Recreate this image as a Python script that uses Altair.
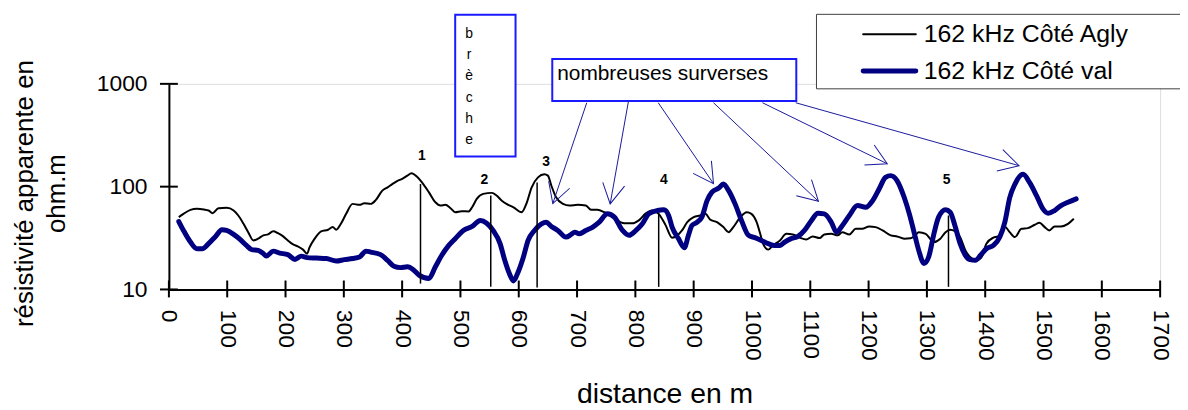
import math
import altair as alt
import pandas as pd

# ---------------- data ----------------
SERIES = ["162 kHz Côté Agly", "162 kHz Côté val"]

agly_dist = [17, 25, 37, 48, 60, 68, 75, 85, 99, 111, 119, 128, 136, 145, 153, 162, 170, 179, 187, 196,
             204, 213, 221, 230, 237, 241, 250, 261, 273, 281, 287, 295, 304, 315, 327, 335, 346, 355, 366, 375,
             383, 392, 400, 409, 416, 426, 434, 446, 457, 466, 474, 483, 491, 502, 514, 520, 528, 539, 554, 562,
             571, 579, 591, 605, 613, 622, 633, 644, 650, 656, 664, 676, 687, 701, 715, 724, 735, 747, 758, 769,
             781, 795, 806, 818, 829, 840, 852, 863, 872, 880, 889, 900, 911, 920, 928, 940, 951, 960, 968, 980,
             991, 999, 1008, 1014, 1019, 1028, 1036, 1048, 1059, 1070, 1082, 1093, 1104, 1116, 1124, 1136, 1147,
             1155, 1167, 1178, 1189, 1201, 1212, 1224, 1238, 1249, 1261, 1272, 1280, 1286, 1298, 1312, 1323, 1332,
             1340, 1348, 1357, 1366, 1374, 1385, 1394, 1402, 1414, 1422, 1434, 1442, 1451, 1462, 1473, 1485, 1493,
             1502, 1510, 1519, 1530, 1542, 1552]
agly_rho = [50.5, 54.4, 59.5, 60.8, 59.9, 58.6, 55.1, 61.7, 62.2, 58.6, 52.4, 43.5, 36.1, 30, 31.2, 33.6, 34.3,
            36.9, 35.3, 32.8, 30, 27.4, 26.3, 24.4, 22.3, 25.5, 31.2, 36.7, 38.1, 40.4, 38.1, 43.5, 54.4, 68, 66.5,
            68.9, 68, 74.3, 91.5, 98.4, 106, 114, 119, 128, 135, 124, 110, 88, 70.5, 65.5, 66.5, 61.7, 56.4, 57.7,
            57.3, 63, 76, 85, 87, 82, 73, 68, 63, 56.4, 68, 98, 123, 132, 128, 102, 79, 68, 65.5, 66.5, 65.5, 59.5,
            59.5, 56.4, 52.4, 47, 44, 44, 47, 55, 58.6, 54.4, 42, 31.9, 33.6, 37.5, 45.1, 50.5, 52.4, 54.4, 48,
            45.1, 40.4, 36.1, 40.4, 50.5, 56.4, 54.4, 45.1, 35, 27.9, 24.4, 26.8, 30, 34.8, 34.3, 31.9, 30.6, 32.8,
            31.6, 34.3, 34.8, 33.6, 36.1, 34.3, 38.9, 38.9, 41, 40.4, 37.5, 33.6, 32.8, 31.2, 31.5, 33.6, 36.1,
            34.8, 28.9, 31.2, 36.1, 38.1, 36.9, 32.3, 24, 20.7, 19.2, 20.7, 27.9, 31.9, 32.8, 40.4, 36.1, 32.3,
            38.9, 39.5, 42.6, 44.5, 40.4, 37.5, 41, 41, 43.5, 48.7]

val_dist = [17, 25, 37, 48, 57, 68, 80, 91, 99, 111, 122, 133, 142, 153, 162, 167, 179, 190, 204, 216, 227, 237,
            253, 270, 287, 301, 315, 327, 338, 346, 363, 375, 386, 397, 409, 420, 429, 446, 457, 468, 480, 491,
            505, 520, 534, 545, 556, 568, 576, 585, 591, 599, 608, 616, 627, 639, 647, 656, 667, 681, 690, 696,
            704, 715, 727, 738, 752, 764, 778, 789, 801, 812, 823, 838, 849, 857, 863, 874, 884, 891, 897, 906,
            914, 923, 931, 943, 951, 960, 971, 982, 994, 1005, 1016, 1028, 1039, 1048, 1056, 1067, 1079, 1090,
            1102, 1113, 1124, 1136, 1145, 1155, 1167, 1181, 1195, 1207, 1218, 1229, 1238, 1249, 1261, 1270, 1278,
            1286, 1295, 1303, 1312, 1320, 1332, 1340, 1348, 1357, 1366, 1374, 1383, 1392, 1402, 1414, 1425, 1434,
            1442, 1451, 1465, 1476, 1488, 1499, 1508, 1519, 1530, 1542, 1556]
val_rho = [45.8, 37.5, 28.9, 24.9, 24.9, 27.9, 32.8, 38.1, 37.5, 34.3, 30.7, 26.8, 24.4, 24, 22.3, 21.1, 23.6,
           22.6, 21.8, 19.6, 21.1, 20.4, 20.2, 20, 18.9, 19.5, 20, 20.7, 23.6, 23.1, 21.8, 19.2, 16.8, 16.3, 16.6,
           15.4, 13.8, 12.8, 16.6, 21.5, 26.8, 31.2, 37.5, 41, 46.9, 44.1, 37.5, 27.9, 19.2, 13.8, 12.1, 14.8,
           20.7, 30, 37.5, 43.5, 45.1, 41, 37.5, 32.3, 34.3, 36.1, 34.8, 37.5, 40.4, 45.1, 54.4, 50.5, 37.5, 33.6,
           37.5, 43.5, 54.4, 58.6, 59.5, 52.4, 40.4, 31.2, 25.5, 33.6, 41.9, 45.1, 50.5, 73.2, 88.1, 97, 106, 91.5,
           68, 46.9, 33.6, 31.9, 30, 27.9, 26.8, 26.8, 28.9, 31.2, 32.8, 37.5, 46.9, 55.1, 54.4, 45.1, 36.1, 41.9,
           52.4, 65.5, 63, 73.2, 95, 123, 128, 114, 78.8, 54, 36, 24, 17.9, 20.7, 34.8, 50.5, 59.5, 56.4, 41.9,
           27.9, 21.5, 19.5, 19.2, 21.5, 24.9, 26.8, 32.3, 46, 78, 106, 132, 110, 81.8, 60.8, 55.1, 58.6, 65.5,
           70.5, 76]

x_tick_values = [0, 100, 200, 300, 400, 500, 600, 700, 800, 900, 1000, 1100, 1200, 1300, 1400, 1500, 1600, 1700]
y_tick_values = [10, 100, 1000]

# numbered markers (vertical lines + labels)
marker_labels = ["1", "2", "3", "4", "5"]
marker_dist = [431.5, 552, 631.5, 840, 1337]
marker_low = [11.4, 10.6, 10.45, 10.6, 10.6]
marker_high = [106, 81.8, 110, 54.4, 52.4]
label_dist = [434, 541, 647, 849, 1334]
label_rho = [181, 106, 160, 106, 106]

# "nombreuses surverses" call-out and arrows
surverses_text = "nombreuses surverses"
surverses_box_dist = [657.5, 1076]
surverses_box_rho = [680, 1746]
surverses_text_pos = [666, 1084]
arrow_start_dist = [716.6, 788.2, 839.3, 934, 1018, 1075]
arrow_start_rho = [655, 680, 655, 655, 655, 655]
arrow_tip_dist = [658.4, 756.8, 934, 1114, 1232, 1458]
arrow_tip_rho = [68.4, 68, 107, 72, 167, 160]

# "brèche" box
breche_letters = ["b", "r", "è", "c", "h", "e"]
breche_box_dist = [491, 594.5]
breche_box_rho = [196.5, 4697]
breche_text_pos = [515, 2787]

# ---------------- layout / style ----------------
W, H = 998, 207
X_MAX = 1700
Y_MIN, Y_MAX = 10, 1000
FONT = "Liberation Sans"
NAVY = "#000080"
BOX_BLUE = "#1a1aff"
ARROW_BLUE = "#1a1a9c"

x_scale = alt.Scale(domain=[0, X_MAX], nice=False, zero=False)
y_scale = alt.Scale(type="log", domain=[Y_MIN, Y_MAX], nice=False)

x_axis = alt.Axis(values=x_tick_values, format="d", labelAngle=90, labelFontSize=23, labelPadding=20,
                  labelOverlap=False, labelFlush=False, ticks=False, grid=False,
                  domainColor="black", domainWidth=2, labelColor="black",
                  titleFontSize=28.5, titleFontWeight="normal", titleColor="black",
                  titleBaseline="alphabetic", titleY=114)
y_axis = alt.Axis(values=y_tick_values, format="d", labelFontSize=23, labelPadding=22,
                  labelOverlap=False, ticks=False, grid=False,
                  domainColor="black", domainWidth=2, labelColor="black",
                  titleFontSize=26, titleFontWeight="normal", titleColor="black",
                  titleAngle=270, titleAlign="center", titleBaseline="alphabetic",
                  titleX=-137, titleY=110, titleLineHeight=32)

X_TITLE = "distance en m"
Y_TITLE = ["résistivité apparente en", "ohm.m"]


def X(f="x"):
    return alt.X(f"{f}:Q", scale=x_scale, axis=x_axis, title=X_TITLE)


def Y(f="y"):
    return alt.Y(f"{f}:Q", scale=y_scale, axis=y_axis, title=Y_TITLE)


def to_px(d, r):
    px = d / X_MAX * W
    py = H - (math.log10(r) - math.log10(Y_MIN)) / (math.log10(Y_MAX) - math.log10(Y_MIN)) * H
    return px, py


# ---------------- layers ----------------
agly_df = pd.DataFrame({"x": agly_dist, "y": agly_rho})
val_df = pd.DataFrame({"x": val_dist, "y": val_rho})

line_agly = alt.Chart(agly_df).mark_line(color="black", strokeWidth=2, interpolate="monotone",
                                         strokeJoin="round").encode(x=X(), y=Y())
line_val = alt.Chart(val_df).mark_line(color=NAVY, strokeWidth=5, interpolate="monotone",
                                       strokeCap="round", strokeJoin="round").encode(x=X(), y=Y())

xt_df = pd.DataFrame({"x": x_tick_values})
x_ticks = alt.Chart(xt_df).mark_rule(color="black", strokeWidth=2).encode(
    x=X(), y=alt.value(H - 9), y2=alt.value(H + 8))
yt_df = pd.DataFrame({"y": y_tick_values})
y_ticks = alt.Chart(yt_df).mark_rule(color="black", strokeWidth=2).encode(
    y=Y(), x=alt.value(-9), x2=alt.value(9))

mk_df = pd.DataFrame({"x": marker_dist, "y": marker_low, "y2": marker_high})
markers = alt.Chart(mk_df).mark_rule(color="black", strokeWidth=1.5).encode(
    x=X(), y=Y(), y2=alt.Y2("y2:Q"))
lb_df = pd.DataFrame({"x": label_dist, "y": label_rho, "t": marker_labels})
marker_text = alt.Chart(lb_df).mark_text(fontSize=14, fontWeight="bold", align="center",
                                         baseline="alphabetic", color="black").encode(
    x=X(), y=Y(), text="t:N")

# boxes
breche_df = pd.DataFrame({"x": [breche_box_dist[0]], "x2": [breche_box_dist[1]],
                          "y": [breche_box_rho[0]], "y2": [breche_box_rho[1]]})
breche_box = alt.Chart(breche_df).mark_rect(fill="white", stroke=BOX_BLUE, strokeWidth=2).encode(
    x=X(), x2=alt.X2("x2:Q"), y=Y(), y2=alt.Y2("y2:Q"))
breche_tdf = pd.DataFrame({"x": [breche_text_pos[0]], "y": [breche_text_pos[1]],
                           "t": ["\n".join(breche_letters)]})
breche_txt = alt.Chart(breche_tdf).mark_text(fontSize=14, align="center", baseline="alphabetic",
                                             lineBreak="\n", lineHeight=21.3, color="black").encode(
    x=X(), y=Y(), text="t:N")

surv_df = pd.DataFrame({"x": [surverses_box_dist[0]], "x2": [surverses_box_dist[1]],
                        "y": [surverses_box_rho[0]], "y2": [surverses_box_rho[1]]})
surv_box = alt.Chart(surv_df).mark_rect(fill="white", stroke=BOX_BLUE, strokeWidth=2).encode(
    x=X(), x2=alt.X2("x2:Q"), y=Y(), y2=alt.Y2("y2:Q"))
surv_tdf = pd.DataFrame({"x": [surverses_text_pos[0]], "y": [surverses_text_pos[1]], "t": [surverses_text]})
surv_txt = alt.Chart(surv_tdf).mark_text(fontSize=21, align="left", baseline="alphabetic",
                                         color="black").encode(x=X(), y=Y(), text="t:N")

angles = []
for sx, sy, tx, ty in zip(arrow_start_dist, arrow_start_rho, arrow_tip_dist, arrow_tip_rho):
    x0, y0 = to_px(sx, sy)
    x1, y1 = to_px(tx, ty)
    angles.append(math.degrees(math.atan2(x1 - x0, -(y1 - y0))) % 360)

arr_df = pd.DataFrame({"x": arrow_start_dist, "y": arrow_start_rho,
                       "x2": arrow_tip_dist, "y2": arrow_tip_rho})
arrows = alt.Chart(arr_df).mark_rule(color=ARROW_BLUE, strokeWidth=1).encode(
    x=X(), x2=alt.X2("x2:Q"), y=Y(), y2=alt.Y2("y2:Q"))
head_df = pd.DataFrame({"x": arrow_tip_dist, "y": arrow_tip_rho, "a": angles})
heads = alt.Chart(head_df).mark_point(shape="M-0.5,0.9L0,0L0.5,0.9", filled=False, size=1990,
                                      strokeWidth=1, color=ARROW_BLUE, opacity=1).encode(
    x=X(), y=Y(), angle=alt.Angle("a:Q", scale=None))

# legend (drawn by hand, outside the plot area; its right side runs off the page)
one = pd.DataFrame({"k": [0]})
LEG_L, LEG_R, LEG_T, LEG_B = 652, 1200, -70, 5
leg_fill = alt.Chart(one).mark_rect(fill="white", strokeWidth=0).encode(
    x=alt.value(LEG_L), x2=alt.value(LEG_R), y=alt.value(LEG_T), y2=alt.value(LEG_B))
leg_top = alt.Chart(one).mark_rule(color="#404040", strokeWidth=1).encode(
    x=alt.value(LEG_L), x2=alt.value(LEG_R), y=alt.value(LEG_T))
leg_bot = alt.Chart(one).mark_rule(color="#404040", strokeWidth=1).encode(
    x=alt.value(LEG_L), x2=alt.value(LEG_R), y=alt.value(LEG_B))
leg_left = alt.Chart(one).mark_rule(color="#404040", strokeWidth=1).encode(
    x=alt.value(LEG_L), y=alt.value(LEG_T), y2=alt.value(LEG_B))
leg_rows_y = [-50, -13]
leg_styles = [("black", 2), (NAVY, 5)]
leg_layers = [leg_fill, leg_top, leg_bot, leg_left]
for name, yy, (col, sw) in zip(SERIES, leg_rows_y, leg_styles):
    leg_layers.append(alt.Chart(one).mark_rule(color=col, strokeWidth=sw, strokeCap="round").encode(
        x=alt.value(699), x2=alt.value(752), y=alt.value(yy)))
    leg_layers.append(alt.Chart(pd.DataFrame({"t": [name]})).mark_text(
        fontSize=25, align="left", baseline="middle", color="black").encode(
        x=alt.value(760), y=alt.value(yy), text="t:N"))

chart = alt.layer(
    line_agly, line_val, markers, x_ticks, y_ticks, marker_text,
    breche_box, breche_txt, surv_box, surv_txt, arrows, heads,
    *leg_layers
).properties(
    width=W, height=H,
    padding={"left": 162, "top": 75, "right": 20, "bottom": 120},
    autosize=alt.AutoSizeParams(type="none"),
    background="white",
).configure_view(stroke=None).configure(font=FONT)

chart.save("out.html", embed_options={"renderer": "svg", "actions": False})
